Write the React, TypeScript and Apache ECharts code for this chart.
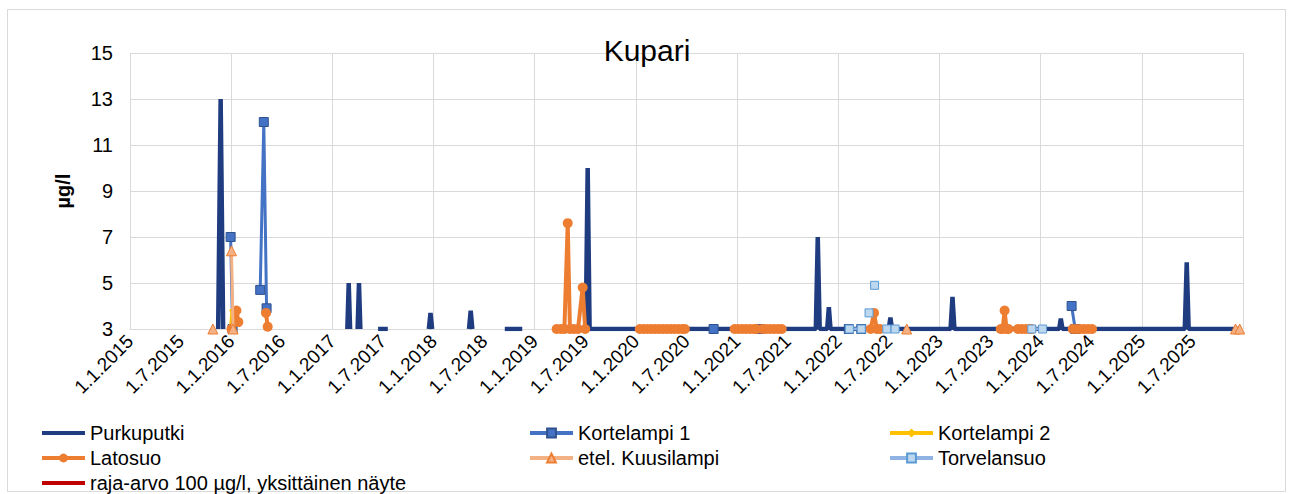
import { useEffect, useRef } from 'react';
import * as echarts from 'echarts';

const TITLE = 'Kupari';
const Y_NAME = 'µg/l';
const Y_MIN = 3;
const Y_MAX = 15;
const Y_STEP = 2;
const X_MIN_YEAR = 2015;
const X_MAX_YEAR = 2026;

const xTickLabels = [
  '1.1.2015', '1.7.2015', '1.1.2016', '1.7.2016', '1.1.2017', '1.7.2017',
  '1.1.2018', '1.7.2018', '1.1.2019', '1.7.2019', '1.1.2020', '1.7.2020',
  '1.1.2021', '1.7.2021', '1.1.2022', '1.7.2022', '1.1.2023', '1.7.2023',
  '1.1.2024', '1.7.2024', '1.1.2025', '1.7.2025',
];

type Pt = [string, number | null];

const purkuputki: Pt[] = [
  ['2015-11-15', 3], ['2015-11-24', 13], ['2015-12-03', 3], ['2016-06-01', null],
  ['2017-02-24', 3], ['2017-03-01', 5], ['2017-03-06', 3], ['2017-03-20', null],
  ['2017-04-02', 3], ['2017-04-07', 5], ['2017-04-12', 3], ['2017-05-20', null],
  ['2017-06-15', 3], ['2017-07-20', 3], ['2017-10-01', null],
  ['2017-12-15', 3], ['2017-12-21', 3.7], ['2017-12-27', 3], ['2018-03-01', null],
  ['2018-05-09', 3], ['2018-05-15', 3.8], ['2018-05-21', 3], ['2018-08-01', null],
  ['2018-09-15', 3], ['2018-10-15', 3], ['2018-11-17', 3], ['2019-03-01', null],
  ['2019-07-04', 3], ['2019-07-11', 10], ['2019-07-18', 3],
  ['2021-10-12', 3], ['2021-10-19', 7], ['2021-10-26', 3],
  ['2021-11-22', 3], ['2021-11-28', 3.95], ['2021-12-04', 3],
  ['2022-07-02', 3], ['2022-07-08', 3.5], ['2022-07-14', 3],
  ['2023-02-10', 3], ['2023-02-17', 4.4], ['2023-02-24', 3],
  ['2024-03-08', 3], ['2024-03-14', 3.45], ['2024-03-20', 3],
  ['2025-06-05', 3], ['2025-06-12', 5.9], ['2025-06-19', 3],
  ['2025-12-19', 3],
];

const kortelampi1: Pt[] = [
  ['2015-12-30', 7], ['2016-01-06', 3], ['2016-03-01', null],
  ['2016-04-15', 4.7], ['2016-04-28', 12], ['2016-05-08', 3.9], ['2016-09-01', null],
  ['2020-10-08', 3], ['2021-01-01', null],
  ['2021-03-24', 3], ['2021-08-01', null],
  ['2022-02-08', 3], ['2022-03-25', 3], ['2022-04-10', null],
  ['2024-04-22', 4.0], ['2024-05-05', 3],
];

const kortelampi2: Pt[] = [
  ['2015-12-29', 3], ['2016-01-04', 3.8], ['2016-01-09', 3.2],
];

const latosuo: Pt[] = [
  ['2016-01-02', 3], ['2016-01-20', 3.8], ['2016-01-27', 3.3], ['2016-03-01', null],
  ['2016-05-06', 3.7], ['2016-05-12', 3.1], ['2016-09-01', null],
  ['2019-03-21', 3], ['2019-04-05', 3], ['2019-04-18', 3], ['2019-04-30', 7.6], ['2019-05-08', 3],
  ['2019-05-22', 3], ['2019-06-06', 3], ['2019-06-23', 4.8], ['2019-07-02', 3], ['2019-10-01', null],
  ['2020-01-15', 3], ['2020-01-29', 3], ['2020-02-12', 3], ['2020-02-26', 3], ['2020-03-11', 3],
  ['2020-03-25', 3], ['2020-04-08', 3], ['2020-04-22', 3], ['2020-05-06', 3], ['2020-05-20', 3],
  ['2020-06-03', 3], ['2020-06-17', 3], ['2020-06-26', 3], ['2020-09-01', null],
  ['2020-12-23', 3], ['2021-01-06', 3], ['2021-01-20', 3], ['2021-02-03', 3], ['2021-02-17', 3],
  ['2021-03-03', 3], ['2021-03-13', 3], ['2021-03-24', null],
  ['2021-04-03', 3], ['2021-04-17', 3], ['2021-05-01', 3], ['2021-05-15', 3], ['2021-05-29', 3],
  ['2021-06-11', 3], ['2021-09-01', null],
  ['2022-04-28', 3], ['2022-05-10', 3.7], ['2022-05-20', 3], ['2022-06-01', 3], ['2022-08-01', null],
  ['2023-08-10', 3], ['2023-08-17', 3], ['2023-08-24', 3.8], ['2023-08-31', 3], ['2023-09-07', 3],
  ['2023-09-25', null],
  ['2023-10-11', 3], ['2023-10-25', 3], ['2023-11-08', 3], ['2023-11-22', 3], ['2023-11-30', 3],
  ['2024-02-01', null],
  ['2024-04-26', 3], ['2024-05-10', 3], ['2024-05-24', 3], ['2024-06-07', 3], ['2024-06-21', 3],
  ['2024-07-05', 3],
];

const etelKuusilampi: Pt[] = [
  ['2015-10-27', 3], ['2015-12-01', null],
  ['2016-01-02', 6.4], ['2016-01-08', 3], ['2016-06-01', null],
  ['2022-09-05', 3], ['2023-01-01', null],
  ['2025-12-05', 3], ['2025-12-20', 3],
];

const torvelansuo: Pt[] = [
  ['2022-02-10', 3], ['2022-03-25', 3], ['2022-04-05', null],
  ['2022-04-22', 3.7], ['2022-05-01', null],
  ['2022-05-12', 4.9], ['2022-06-01', null],
  ['2022-06-25', 3], ['2022-07-25', 3], ['2022-10-01', null],
  ['2023-11-30', 3], ['2024-01-08', 3],
];

const rajaArvo: Pt[] = [];

const toYear = (s: string): number => {
  const [y, m, d] = s.split('-').map(Number);
  const start = Date.UTC(y, 0, 1);
  const end = Date.UTC(y + 1, 0, 1);
  return y + (Date.UTC(y, m - 1, d) - start) / (end - start);
};

const toData = (pts: Pt[]) =>
  pts.map(([d, v]) => [toYear(d), v === null ? '-' : v]);

const FONT = '"Liberation Sans", Arial, sans-serif';

export default function App() {
  const ref = useRef<HTMLDivElement>(null);

  useEffect(() => {
    if (!ref.current) return;
    const chart = echarts.init(ref.current, undefined, { renderer: 'svg' });

    const lineSeries = (
      name: string,
      pts: Pt[],
      color: string,
      lineWidth: number,
      symbol: string,
      symbolSize: number,
      itemStyle: any,
      z: number
    ) => ({
      name,
      type: 'line',
      xAxisIndex: 0,
      yAxisIndex: 0,
      data: toData(pts),
      connectNulls: false,
      symbol,
      symbolSize,
      showSymbol: symbol !== 'none',
      showAllSymbol: true,
      lineStyle: { color, width: lineWidth },
      itemStyle: { color, ...itemStyle },
      z,
      clip: true,
    });

    const legendText = { fontFamily: FONT, fontSize: 20, color: '#000', lineHeight: 20 };
    const legendBase = {
      orient: 'vertical',
      top: 423,
      itemWidth: 43,
      itemHeight: 11,
      itemGap: 5,
      textStyle: legendText,
      lineStyle: { width: 4 },
      selectedMode: false,
      padding: 0,
    };
    const hiddenMarker = { itemStyle: { opacity: 0 } };

    chart.setOption({
      animation: false,
      backgroundColor: '#fff',
      textStyle: { fontFamily: FONT },
      title: {
        text: TITLE,
        left: 'center',
        top: 30,
        textStyle: { fontFamily: FONT, fontSize: 30, fontWeight: 'normal', color: '#000' },
      },
      graphic: [
        {
          type: 'rect',
          silent: true,
          z: -10,
          shape: { x: 7.5, y: 9.5, width: 1278, height: 482 },
          style: { fill: 'none', stroke: '#D9D9D9', lineWidth: 1 },
        },
      ],
      grid: { left: 130, right: 51, top: 53, bottom: 165, containLabel: false },
      xAxis: [
        {
          type: 'value',
          min: X_MIN_YEAR,
          max: X_MAX_YEAR,
          interval: 0.5,
          axisLine: { show: true, lineStyle: { color: '#D9D9D9', width: 1 } },
          axisTick: { show: false },
          splitLine: { show: false },
          axisLabel: {
            rotate: 45,
            margin: 9,
            fontFamily: FONT,
            fontSize: 19,
            color: '#000',
            showMaxLabel: false,
            formatter: (v: number) => {
              const i = Math.round((v - X_MIN_YEAR) * 2);
              return xTickLabels[i] ?? '';
            },
          },
        },
        {
          type: 'value',
          min: X_MIN_YEAR,
          max: X_MAX_YEAR,
          interval: 1,
          axisLine: { show: false },
          axisTick: { show: false },
          axisLabel: { show: false },
          splitLine: { show: true, lineStyle: { color: '#D9D9D9', width: 1 } },
        },
      ],
      yAxis: {
        type: 'value',
        min: Y_MIN,
        max: Y_MAX,
        interval: Y_STEP,
        name: Y_NAME,
        nameLocation: 'middle',
        nameGap: 57,
        nameRotate: 90,
        nameTextStyle: { fontFamily: FONT, fontSize: 20, fontWeight: 'bold', color: '#000' },
        axisLine: { show: false },
        axisTick: { show: false },
        splitLine: { show: true, lineStyle: { color: '#D9D9D9', width: 1 } },
        axisLabel: { fontFamily: FONT, fontSize: 20, color: '#000', margin: 17 },
      },
      legend: [
        {
          ...legendBase,
          left: 40,
          data: [
            { name: 'Purkuputki', ...hiddenMarker },
            'Latosuo',
            { name: 'raja-arvo 100 µg/l, yksittäinen näyte', ...hiddenMarker },
          ],
        },
        { ...legendBase, left: 528, data: ['Kortelampi 1', 'etel. Kuusilampi'] },
        { ...legendBase, left: 888, data: ['Kortelampi 2', 'Torvelansuo'] },
      ],
      series: [
        lineSeries('Purkuputki', purkuputki, '#1F3C80', 4.5, 'none', 0, {}, 2),
        lineSeries('Kortelampi 1', kortelampi1, '#4472C4', 3, 'rect', 9, { borderColor: '#2F528F', borderWidth: 1 }, 3),
        lineSeries('Kortelampi 2', kortelampi2, '#FFC000', 3, 'diamond', 6, {}, 4),
        lineSeries('Latosuo', latosuo, '#ED7D31', 4, 'circle', 10, {}, 5),
        lineSeries('etel. Kuusilampi', etelKuusilampi, '#F4B183', 3, 'triangle', 10, { borderColor: '#ED7D31', borderWidth: 1 }, 6),
        lineSeries('Torvelansuo', torvelansuo, '#8FB4E3', 3, 'rect', 8, { color: '#BDD7EE', borderColor: '#5B9BD5', borderWidth: 1 }, 7),
        lineSeries('raja-arvo 100 µg/l, yksittäinen näyte', rajaArvo, '#C00000', 3.5, 'none', 0, {}, 8),
      ],
    });

    return () => chart.dispose();
  }, []);

  return (
    <div
      ref={ref}
      style={{ position: 'fixed', left: 0, top: 0, width: 1294, height: 494 }}
    />
  );
}
